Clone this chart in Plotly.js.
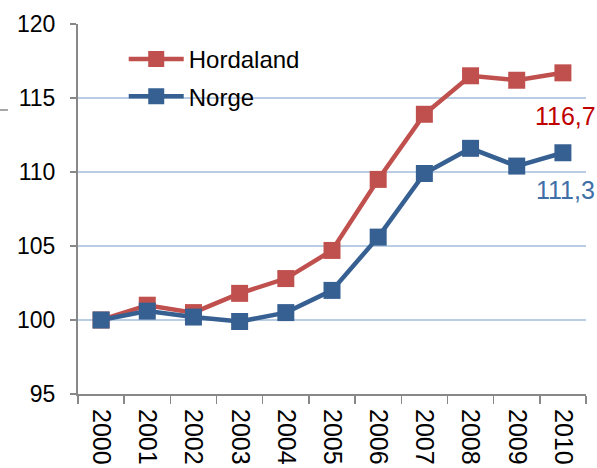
<!DOCTYPE html>
<html><head><meta charset="utf-8">
<script src="https://cdn.plot.ly/plotly-3.0.1.min.js"></script>
<style>body{margin:0;padding:0;background:#fff}#chart{width:597px;height:468px}</style>
</head><body><div id="chart"></div>
<script>
const years = ['2000','2001','2002','2003','2004','2005','2006','2007','2008','2009','2010'];
const hordaland = [100.0, 101.0, 100.5, 101.8, 102.8, 104.7, 109.5, 113.9, 116.5, 116.2, 116.7];
const norge = [100.0, 100.6, 100.2, 99.9, 100.5, 102.0, 105.6, 109.9, 111.6, 110.4, 111.3];
const seriesNames = ['Hordaland', 'Norge'];
const endLabels = ['116,7', '111,3'];
const yTicks = [95, 100, 105, 110, 115, 120];

const red = '#c0504d', blue = '#376092';
const font = 'Liberation Sans, Arial, sans-serif';
const lastIdx = years.length - 1;

const traces = [
  {x: years, y: hordaland, name: seriesNames[0], type: 'scatter', mode: 'lines+markers',
   legendgroup: 'a',
   line: {color: red, width: 4.5}, marker: {symbol: 'square', size: 17, color: red}},
  {x: years, y: norge, name: seriesNames[1], type: 'scatter', mode: 'lines+markers',
   legendgroup: 'b',
   line: {color: blue, width: 4.5}, marker: {symbol: 'square', size: 17, color: blue}}
];

const layout = {
  width: 597, height: 468,
  margin: {l: 78, r: 11, t: 24, b: 74, pad: 0},
  paper_bgcolor: '#fff', plot_bgcolor: '#fff',
  font: {family: font, size: 23, color: '#000'},
  showlegend: true,
  legend: {x: 0.09, y: 0.965, xanchor: 'left', yanchor: 'top', bgcolor: 'rgba(0,0,0,0)',
           itemwidth: 55, traceorder: 'grouped', tracegroupgap: 3,
           font: {family: font, size: 24, color: '#000'}},
  xaxis: {type: 'category', range: [-0.5, 10.5], tickson: 'boundaries',
          ticks: 'outside', ticklen: 8, tickcolor: '#888', tickwidth: 1.5,
          showline: true, linecolor: '#888', linewidth: 2, showgrid: false,
          tickangle: 90, ticklabelstandoff: 8,
          tickfont: {family: font, size: 25, color: '#000'}},
  yaxis: {range: [95, 120], tickvals: yTicks, ticktext: yTicks.map(String),
          ticks: 'outside', ticklen: 6, tickcolor: '#888', tickwidth: 1.5,
          showline: true, linecolor: '#888', linewidth: 2,
          showgrid: true, gridcolor: '#b9cde5', gridwidth: 1.5, zeroline: false,
          ticklabelstandoff: 10,
          tickfont: {family: font, size: 23, color: '#000'}},
  annotations: [
    {x: lastIdx, y: 113.8, xref: 'x', yref: 'y', text: endLabels[0], showarrow: false,
     xanchor: 'center', xshift: 3, font: {family: font, size: 25, color: '#c00000'}},
    {x: lastIdx, y: 108.8, xref: 'x', yref: 'y', text: endLabels[1], showarrow: false,
     xanchor: 'center', xshift: 3, font: {family: font, size: 25, color: '#3f6fa7'}}
  ],
  shapes: [
    {type: 'line', xref: 'paper', yref: 'paper', x0: -0.1535, x1: -0.138, y0: 0.7676, y1: 0.7676,
     line: {color: '#888', width: 1.5}}
  ]
};

Plotly.newPlot('chart', traces, layout, {displayModeBar: false, staticPlot: true});
</script></body></html>
